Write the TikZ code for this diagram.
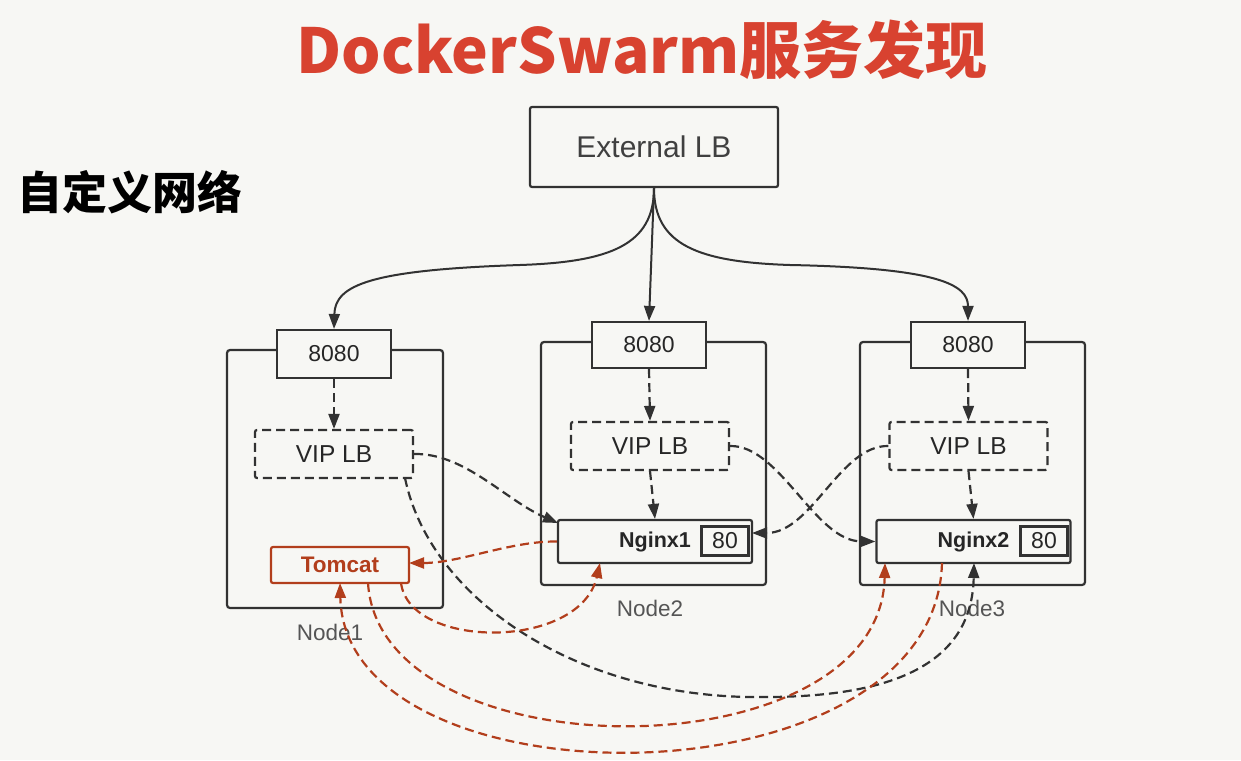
\documentclass[tikz,border=0pt]{standalone}
\usepackage{fontspec}
\setmainfont{Liberation Sans}
\newfontfamily\cjk{Noto Sans CJK SC}
\usetikzlibrary{arrows.meta}
\definecolor{bg}{RGB}{247,247,244}
\definecolor{ln}{RGB}{50,50,50}
\definecolor{rd}{RGB}{178,62,28}
\definecolor{tt}{RGB}{216,66,48}
\definecolor{lbl}{RGB}{85,85,85}
\tikzset{
  box/.style={draw=ln, line width=2.2pt, rounded corners=2pt, fill=bg, inner sep=0pt, text=black!85},
  dbox/.style={box, dash pattern=on 9pt off 5pt},
  cont/.style={draw=ln, line width=2.2pt, rounded corners=3pt, inner sep=0pt},
  tip/.style={-{Triangle[length=15pt,width=11pt]}},
  solidarrow/.style={draw=ln, line width=2pt, tip},
  darrow/.style={draw=ln, line width=2.2pt, dash pattern=on 9pt off 5pt, tip},
  rarrow/.style={draw=rd, line width=2.2pt, dash pattern=on 9pt off 5pt, tip},
  nlabel/.style={text=lbl, font=\fontsize{22.5}{26}\selectfont},
  btxt/.style={font=\fontsize{23}{26}\selectfont},
}
\begin{document}
\begin{tikzpicture}[x=1pt,y=-1pt]
\fill[bg] (0,0) rectangle (1241,760);
\useasboundingbox (0,0) rectangle (1241,760);

\node[text=tt, font=\cjk\bfseries\fontsize{62}{66}\selectfont] (title) at (642,50) {DockerSwarm服务发现};
\node[text=black, font=\cjk\bfseries\fontsize{45}{50}\selectfont] (sub) at (130,192) {自定义网络};

\node[box, minimum width=248pt, minimum height=80pt, font=\fontsize{30}{34}\selectfont, text=black!75] (ext) at (654,147) {External LB};

% containers
\node[cont, minimum width=216pt, minimum height=258pt] (c1) at (335,479) {};
\node[cont, minimum width=225pt, minimum height=243pt] (c2) at (653.5,463.5) {};
\node[cont, minimum width=225pt, minimum height=243pt] (c3) at (972.5,463.5) {};
\node[nlabel] (l1) at (330,632) {Node1};
\node[nlabel] (l2) at (650,608) {Node2};
\node[nlabel] (l3) at (972,608) {Node3};

% 8080 ports
\node[box, rounded corners=0pt, minimum width=114pt, minimum height=48pt, btxt] (p1) at (334,354) {8080};
\node[box, rounded corners=0pt, minimum width=114pt, minimum height=46pt, btxt] (p2) at (649,345) {8080};
\node[box, rounded corners=0pt, minimum width=114pt, minimum height=46pt, btxt] (p3) at (968,345) {8080};

% VIP LB
\node[dbox, minimum width=158pt, minimum height=48pt, font=\fontsize{24.5}{28}\selectfont] (v1) at (334,454) {VIP LB};
\node[dbox, minimum width=158pt, minimum height=48pt, font=\fontsize{24.5}{28}\selectfont] (v2) at (650,446) {VIP LB};
\node[dbox, minimum width=158pt, minimum height=48pt, font=\fontsize{24.5}{28}\selectfont] (v3) at (968.5,446) {VIP LB};

% Tomcat
\node[box, draw=rd, text=rd, minimum width=138pt, minimum height=36pt, font=\bfseries\fontsize{22.5}{26}\selectfont] (tom) at (340,565) {Tomcat};

% Nginx
\node[box, minimum width=194pt, minimum height=43pt, font=\bfseries\fontsize{21.5}{24}\selectfont] (ng1) at (655,541.5) {Nginx1};
\node[box, rounded corners=0pt, minimum width=47pt, minimum height=29pt, btxt] (q1) at (725,541) {80};
\node[box, minimum width=194pt, minimum height=43pt, font=\bfseries\fontsize{21.5}{24}\selectfont] (ng2) at (973.5,541.5) {Nginx2};
\node[box, rounded corners=0pt, minimum width=47pt, minimum height=29pt, btxt] (q2) at (1044,541) {80};

% External LB fan-out
\coordinate (e0) at (ext.south);
\draw[solidarrow] (e0) .. controls (654,245) and (610,262) .. (520,265) .. controls (370,270) and (335,285) .. (p1.north);
\draw[solidarrow] (e0) -- (p2.north);
\draw[solidarrow] (e0) .. controls (654,245) and (698,262) .. (790,265) .. controls (940,268) and (968,285) .. (p3.north);

% port -> VIP
\draw[darrow] (p1.south) -- (v1.north);
\draw[darrow] (p2.south) -- (v2.north);
\draw[darrow] (p3.south) -- (v3.north);

% VIP -> nginx local
\draw[darrow] (v2.south) -- (ng1.north);
\draw[darrow] (v3.south) -- (ng2.north);

% cross VIP -> nginx
\coordinate (ng1w) at (558,523);
\draw[darrow] (v1.east) .. controls (465,453) and (505,500) .. (ng1w);
\draw[darrow] (v2.east) .. controls (780,445) and (815,541) .. (ng2.west);
\coordinate (ng1e) at (752,533);
\draw[darrow] (v3.west) .. controls (840,445) and (812,533) .. (ng1e);

% long gray
\coordinate (v1b) at (405,478);
\coordinate (ng2g) at (974,563);
\draw[darrow] (v1b) .. controls (430,600) and (580,700) .. (765,697) .. controls (900,697) and (972,660) .. (ng2g);

% red arrows
\coordinate (t1) at (409,563);
\draw[rarrow] (ng1.west) .. controls (510,541) and (460,563) .. (t1);
\coordinate (tb1) at (401,583);
\coordinate (ng1b) at (600,563);
\draw[rarrow] (tb1) .. controls (410,650) and (580,650) .. (ng1b);
\coordinate (tb2) at (368,583);
\coordinate (ng2a) at (885,563);
\draw[rarrow] (tb2) .. controls (380,775) and (880,775) .. (ng2a);
\coordinate (ng2b) at (942,563);
\coordinate (tb3) at (340,583);
\draw[rarrow] (ng2b) .. controls (935,810) and (345,810) .. (tb3);
\end{tikzpicture}
\end{document}
